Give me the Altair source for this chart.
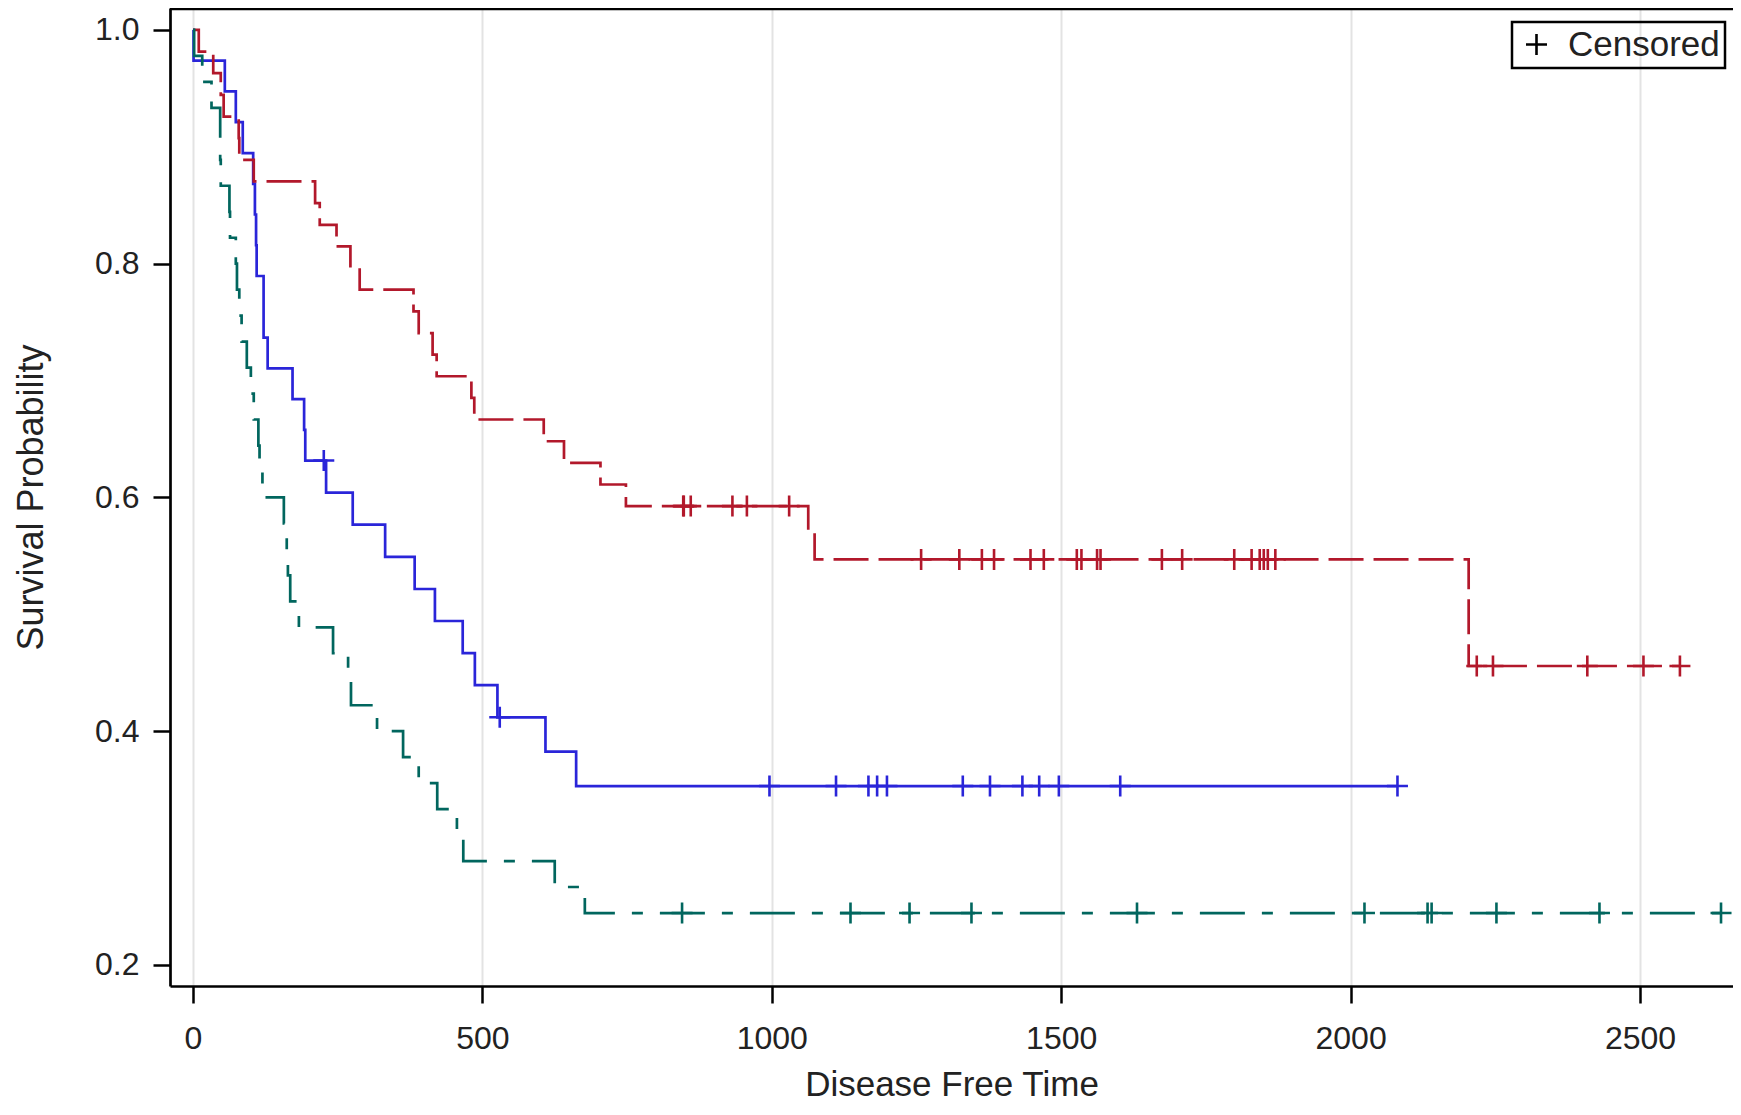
import altair as alt
import pandas as pd

# ---------------- data (Kaplan-Meier steps) ----------------
# Group: ALL (blue, solid)
all_time = [0, 1, 55, 74, 86, 104, 107, 109, 110, 122, 129, 172, 192, 194, 230,
            276, 332, 383, 418, 466, 487, 526, 609, 662, 2081]
all_surv = [1.0, 0.9737, 0.9474, 0.9211, 0.8947, 0.8684, 0.8421, 0.8158, 0.7895,
            0.7368, 0.7105, 0.6842, 0.6579, 0.6316, 0.6041, 0.5767, 0.5492, 0.5217,
            0.4943, 0.4668, 0.4394, 0.4119, 0.3825, 0.3531, 0.3531]
all_cens_time = [226, 530, 996, 1111, 1167, 1182, 1199, 1330, 1377, 1433, 1462,
                 1496, 1602, 2081]
all_cens_surv = [0.6316, 0.4119, 0.3531, 0.3531, 0.3531, 0.3531, 0.3531, 0.3531,
                 0.3531, 0.3531, 0.3531, 0.3531, 0.3531, 0.3531]

# Group: AML-Low Risk (red, long dash)
low_time = [0, 10, 35, 48, 53, 79, 80, 105, 211, 219, 248, 272, 288, 381, 390, 414,
            421, 481, 486, 606, 641, 704, 748, 1063, 1074, 2204, 2569]
low_surv = [1.0, 0.9815, 0.9630, 0.9444, 0.9259, 0.9074, 0.8889, 0.8704, 0.8519,
            0.8333, 0.8148, 0.7963, 0.7778, 0.7593, 0.7407, 0.7222, 0.7037, 0.6852,
            0.6667, 0.6481, 0.6296, 0.6111, 0.5926, 0.5698, 0.5470, 0.4558, 0.4558]
low_cens_time = [847, 848, 860, 932, 957, 1030, 1258, 1324, 1363, 1384, 1447, 1470,
                 1527, 1535, 1562, 1568, 1674, 1709, 1799, 1829, 1843, 1850, 1857,
                 1870, 2218, 2246, 2409, 2506, 2569]
low_cens_surv = [0.5926, 0.5926, 0.5926, 0.5926, 0.5926, 0.5926, 0.5470, 0.5470,
                 0.5470, 0.5470, 0.5470, 0.5470, 0.5470, 0.5470, 0.5470, 0.5470,
                 0.5470, 0.5470, 0.5470, 0.5470, 0.5470, 0.5470, 0.5470, 0.5470,
                 0.4558, 0.4558, 0.4558, 0.4558, 0.4558]

# Group: AML-High Risk (green, dash-dot)
high_time = [0, 2, 16, 32, 47, 48, 63, 64, 74, 76, 80, 84, 93, 100, 105, 113, 115,
             120, 157, 162, 164, 168, 183, 242, 268, 273, 318, 363, 390, 422, 456,
             467, 625, 677, 2640]
high_surv = [1.0, 0.9778, 0.9556, 0.9333, 0.8889, 0.8667, 0.8444, 0.8222, 0.8000,
             0.7778, 0.7556, 0.7333, 0.7111, 0.6889, 0.6667, 0.6444, 0.6222, 0.6000,
             0.5778, 0.5556, 0.5333, 0.5111, 0.4889, 0.4667, 0.4444, 0.4222, 0.4000,
             0.3778, 0.3556, 0.3333, 0.3111, 0.2889, 0.2667, 0.2444, 0.2444]
high_cens_time = [845, 1136, 1238, 1345, 1631, 2024, 2133, 2140, 2252, 2430, 2640]
high_cens_surv = [0.2444] * 11

groups = ["ALL", "AML-Low Risk", "AML-High Risk"]
colors = ["#2A25D9", "#B2182B", "#01665E"]
dashes = [[1, 0], [35, 10], [45, 17, 11, 17]]

x_ticks = [0, 500, 1000, 1500, 2000, 2500]
y_ticks = [0.2, 0.4, 0.6, 0.8, 1.0]

# ---------------- build tables ----------------
curves = [(all_time, all_surv), (low_time, low_surv), (high_time, high_surv)]
cens = [(all_cens_time, all_cens_surv), (low_cens_time, low_cens_surv),
        (high_cens_time, high_cens_surv)]

W, H = 1563, 978
FONT = "Liberation Sans"

xscale = alt.Scale(domain=[-39.7, 2660.7], nice=False, zero=False)
yscale = alt.Scale(domain=[0.182, 1.0188], nice=False, zero=False)

xaxis = alt.Axis(values=x_ticks, format="d", title="Disease Free Time", grid=True,
                 gridColor="#e3e3e3", gridWidth=2, tickSize=17, tickWidth=2.5,
                 tickColor="black", domainColor="black", domainWidth=2.7,
                 labelFontSize=32, labelPadding=20, labelFont=FONT,
                 labelColor="#222222", titleFont=FONT, titleFontSize=35,
                 titleFontWeight="normal", titleColor="#222222", titlePadding=13,
                 labelFlush=False)
yaxis = alt.Axis(values=y_ticks, format=".1f", title="Survival Probability",
                 grid=False, tickSize=17, tickWidth=2.5, tickColor="black",
                 domainColor="black", domainWidth=2.7, labelFontSize=32,
                 labelPadding=14, labelFont=FONT, labelColor="#222222",
                 titleFont=FONT, titleFontSize=36, titleFontWeight="normal",
                 titleColor="#222222", titlePadding=44, labelFlush=False)

enc_x = alt.X("time:Q", scale=xscale, axis=xaxis)
enc_y = alt.Y("surv:Q", scale=yscale, axis=yaxis)

layers = []
for i, (g, (t, s)) in enumerate(zip(groups, curves)):
    df = pd.DataFrame({"time": t, "surv": s, "group": g})
    layers.append(
        alt.Chart(df).mark_line(interpolate="step-after", color=colors[i],
                                strokeWidth=2.7, strokeDash=dashes[i])
        .encode(x=enc_x, y=enc_y)
    )

cens_rows = []
for g, (t, s) in zip(groups, cens):
    for tt, ss in zip(t, s):
        cens_rows.append({"time": tt, "surv": ss, "group": g, "kind": "Censored"})
cens_df = pd.DataFrame(cens_rows)

PLUS = "M-1,0H1M0,-1V1"
points = alt.Chart(cens_df).mark_point(filled=False, strokeWidth=2.6, size=441,
                                       opacity=1).encode(
    x=enc_x,
    y=enc_y,
    color=alt.Color("group:N", scale=alt.Scale(domain=groups, range=colors),
                    legend=None),
    shape=alt.Shape("kind:N", scale=alt.Scale(domain=["Censored"], range=[PLUS]),
                    legend=alt.Legend(title=None, orient="none", legendX=1342,
                                      legendY=14, padding=5, strokeColor="black",
                                      symbolStrokeColor="black", symbolSize=441,
                                      symbolStrokeWidth=2.6, symbolOffset=2,
                                      labelFontSize=35, labelFont=FONT,
                                      labelColor="#222222", labelOffset=14,
                                      symbolFillColor="transparent")),
)

top_frame = alt.Chart(pd.DataFrame({"a": [0]})).mark_rule(
    color="black", strokeWidth=2.7).encode(
    x=alt.value(0), x2=alt.value(W), y=alt.value(1))

chart = alt.layer(*layers, points, top_frame).properties(
    width=W, height=H,
    autosize=alt.AutoSizeParams(type="none"),
    padding={"left": 162, "top": 0, "right": 0, "bottom": 121},
).configure_view(stroke=None).configure_legend(strokeWidth=2.5)

chart.save("out.html", embed_options={"renderer": "svg", "actions": False})
